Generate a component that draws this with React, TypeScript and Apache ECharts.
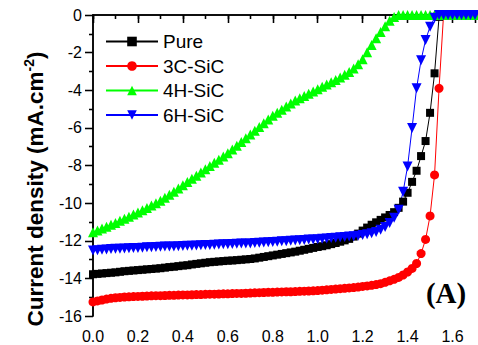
import React, { useEffect, useRef } from "react";
import * as echarts from "echarts";

const voltage = [
  0.0, 0.02, 0.04, 0.06, 0.08, 0.1, 0.12, 0.14, 0.16, 0.18,
  0.2, 0.22, 0.24, 0.26, 0.28, 0.3, 0.32, 0.34, 0.36, 0.38,
  0.4, 0.42, 0.44, 0.46, 0.48, 0.5, 0.52, 0.54, 0.56, 0.58,
  0.6, 0.62, 0.64, 0.66, 0.68, 0.7, 0.72, 0.74, 0.76, 0.78,
  0.8, 0.82, 0.84, 0.86, 0.88, 0.9, 0.92, 0.94, 0.96, 0.98,
  1.0, 1.02, 1.04, 1.06, 1.08, 1.1, 1.12, 1.14, 1.16, 1.18,
  1.2, 1.22, 1.24, 1.26, 1.28, 1.3, 1.32, 1.34, 1.36, 1.38,
  1.4, 1.42, 1.44, 1.46, 1.48, 1.5, 1.52, 1.54, 1.56, 1.58,
  1.6, 1.62, 1.64, 1.66, 1.68, 1.7,
];

const pure = [
  -13.78, -13.76, -13.74, -13.72, -13.7, -13.68, -13.65, -13.62, -13.6, -13.58,
  -13.56, -13.54, -13.52, -13.5, -13.48, -13.46, -13.43, -13.4, -13.38, -13.35,
  -13.32, -13.3, -13.26, -13.23, -13.2, -13.17, -13.14, -13.12, -13.1, -13.08,
  -13.06, -13.05, -13.03, -13.01, -12.99, -12.97, -12.94, -12.9, -12.86, -12.82,
  -12.78, -12.74, -12.7, -12.66, -12.62, -12.58, -12.53, -12.48, -12.43, -12.38,
  -12.33, -12.29, -12.24, -12.18, -12.12, -12.05, -11.98, -11.9, -11.78, -11.62,
  -11.46, -11.3, -11.15, -11.02, -10.89, -10.76, -10.63, -10.48, -10.25, -9.92,
  -9.45, -8.87, -8.28, -7.5, -6.7, -5.2, -3.1, -0.1, 0, 0,
  0, 0, 0, 0, 0, 0,
];

const sic3C = [
  -15.25, -15.2, -15.15, -15.1, -15.06, -15.03, -15.01, -14.99, -14.98, -14.97,
  -14.96, -14.95, -14.94, -14.93, -14.92, -14.92, -14.91, -14.9, -14.9, -14.89,
  -14.88, -14.88, -14.87, -14.86, -14.86, -14.85, -14.84, -14.84, -14.83, -14.82,
  -14.82, -14.81, -14.8, -14.8, -14.79, -14.78, -14.77, -14.76, -14.75, -14.74,
  -14.74, -14.73, -14.72, -14.71, -14.71, -14.7, -14.69, -14.68, -14.67, -14.66,
  -14.65, -14.63, -14.61, -14.59, -14.57, -14.55, -14.53, -14.51, -14.49, -14.46,
  -14.43, -14.4, -14.37, -14.33, -14.28, -14.21, -14.13, -14.05, -13.95, -13.82,
  -13.66, -13.47, -13.21, -12.68, -11.93, -10.68, -8.5, -3.9, 0, 0,
  0, 0, 0, 0, 0, 0,
];

const sic4H = [
  -11.55, -11.45, -11.35, -11.25, -11.15, -11.05, -10.94, -10.83, -10.72, -10.61,
  -10.5, -10.38, -10.26, -10.13, -10.01, -9.88, -9.72, -9.55, -9.39, -9.22,
  -9.05, -8.88, -8.71, -8.54, -8.37, -8.2, -8.03, -7.86, -7.69, -7.52,
  -7.35, -7.15, -6.95, -6.75, -6.55, -6.35, -6.15, -5.95, -5.75, -5.55,
  -5.35, -5.19, -5.03, -4.87, -4.71, -4.55, -4.43, -4.31, -4.19, -4.07,
  -3.95, -3.82, -3.7, -3.57, -3.45, -3.32, -3.18, -3.03, -2.85, -2.62,
  -2.35, -1.98, -1.6, -1.23, -0.9, -0.6, -0.3, -0.1, 0, 0,
  0, 0, 0, 0, 0, 0, 0, 0, 0, 0,
  0, 0, 0, 0, 0, 0,
];

const sic6H = [
  -12.52, -12.5, -12.48, -12.46, -12.44, -12.43, -12.42, -12.41, -12.4, -12.39,
  -12.38, -12.37, -12.35, -12.34, -12.33, -12.32, -12.31, -12.3, -12.3, -12.29,
  -12.28, -12.27, -12.26, -12.25, -12.24, -12.23, -12.22, -12.21, -12.2, -12.19,
  -12.18, -12.17, -12.16, -12.15, -12.15, -12.14, -12.12, -12.11, -12.09, -12.08,
  -12.06, -12.05, -12.03, -12.02, -12.0, -11.99, -11.97, -11.96, -11.94, -11.93,
  -11.92, -11.9, -11.88, -11.86, -11.84, -11.82, -11.8, -11.78, -11.76, -11.73,
  -11.7, -11.66, -11.6, -11.53, -11.42, -11.27, -11.05, -10.78, -10.35, -9.4,
  -8.05, -6.0, -3.9, -2.4, -1.33, -0.62, -0.15, 0, 0, 0,
  0, 0, 0, 0, 0, 0,
];

const seriesNames = ["Pure", "3C-SiC", "4H-SiC", "6H-SiC"];
const seriesValues = [pure, sic3C, sic4H, sic6H];
const seriesColors = ["#000000", "#ff0000", "#00ff00", "#0000ff"];
const seriesSymbols = ["rect", "circle", "triangle", "path://M0,0 L10,0 L5,9 Z"];
const seriesSymbolSizes = [8, 9, 10, 10];

const yAxisTitle = "Current density (mA.cm";
const yAxisSup = "-2";
const panelLabel = "(A)";

const FONT = "Liberation Sans";

export default function App() {
  const ref = useRef<HTMLDivElement>(null);

  useEffect(() => {
    const chart = echarts.init(ref.current!, null, { renderer: "svg" });
    const axisLineStyle = { color: "#000", width: 1.5 };
    const tickStyle = { color: "#000", width: 1.3 };
    const grid = { left: 93, top: 15, right: 3, bottom: 29 };

    const option: any = {
      animation: false,
      backgroundColor: "#fff",
      grid: [grid, { ...grid }],
      legend: {
        orient: "vertical",
        left: 100,
        top: 27,
        itemWidth: 52,
        itemHeight: 12,
        itemGap: 5.5,
        textStyle: { fontSize: 19, fontFamily: FONT, color: "#000" },
        data: seriesNames,
      },
      xAxis: [
        {
          gridIndex: 0,
          type: "value",
          position: "bottom",
          min: 0,
          max: 1.7,
          interval: 0.2,
          axisLine: { lineStyle: axisLineStyle },
          axisTick: { length: 8, lineStyle: tickStyle },
          axisLabel: {
            fontSize: 16,
            fontFamily: FONT,
            color: "#000",
            margin: 12,
            formatter: (v: number) => (v > 1.65 ? "" : v.toFixed(1)),
          },
          splitLine: { show: false },
        },
        {
          gridIndex: 0,
          type: "value",
          position: "top",
          min: 0,
          max: 1.7,
          interval: 0.2,
          axisLine: { lineStyle: axisLineStyle },
          axisTick: { inside: true, length: 8, lineStyle: tickStyle },
          axisLabel: { show: false },
          splitLine: { show: false },
        },
        {
          gridIndex: 1,
          type: "value",
          position: "bottom",
          min: 0,
          max: 1.7,
          interval: 0.1,
          axisLine: { show: false },
          axisTick: { show: true, length: 4, lineStyle: tickStyle },
          axisLabel: { show: false },
          splitLine: { show: false },
        },
        {
          gridIndex: 1,
          type: "value",
          position: "top",
          min: 0,
          max: 1.7,
          interval: 0.1,
          axisLine: { show: false },
          axisTick: { show: true, inside: true, length: 4, lineStyle: tickStyle },
          axisLabel: { show: false },
          splitLine: { show: false },
        },
      ],
      yAxis: [
        {
          gridIndex: 0,
          type: "value",
          position: "left",
          min: -16,
          max: 0,
          interval: 2,
          axisLine: { lineStyle: axisLineStyle },
          axisTick: { length: 8, lineStyle: tickStyle },
          minorTick: { show: true, splitNumber: 2, length: 4, lineStyle: tickStyle },
          axisLabel: { fontSize: 16, fontFamily: FONT, color: "#000", margin: 11 },
          splitLine: { show: false },
        },
        {
          gridIndex: 0,
          type: "value",
          position: "right",
          min: -16,
          max: 0,
          interval: 2,
          axisLine: { lineStyle: axisLineStyle },
          axisTick: { inside: true, length: 8, lineStyle: tickStyle },
          minorTick: { show: true, splitNumber: 2, length: 4, lineStyle: tickStyle },
          axisLabel: { show: false },
          splitLine: { show: false },
        },
        {
          gridIndex: 1,
          type: "value",
          min: -16,
          max: 0,
          show: false,
        },
      ],
      series: seriesNames.map((name, k) => ({
        name,
        type: "line",
        xAxisIndex: 0,
        yAxisIndex: 0,
        data: voltage.map((v, i) => [v, seriesValues[k][i]]),
        symbol: seriesSymbols[k],
        symbolSize: seriesSymbolSizes[k],
        showSymbol: true,
        lineStyle: { color: seriesColors[k], width: 1 },
        itemStyle: { color: seriesColors[k], borderWidth: 0 },
        emphasis: { disabled: true },
      })),
      graphic: [
        {
          type: "text",
          x: 35,
          y: 189,
          rotation: Math.PI / 2,
          style: {
            text: `{a|${yAxisTitle}}{s|${yAxisSup}}{a|)}`,
            align: "center",
            verticalAlign: "middle",
            rich: {
              a: { fontSize: 22.5, fontWeight: "bold", fontFamily: FONT, fill: "#000", lineHeight: 26 },
              s: { fontSize: 14, fontWeight: "bold", fontFamily: FONT, fill: "#000", verticalAlign: "top", lineHeight: 14 },
            },
          },
        },
        {
          type: "text",
          x: 446,
          y: 293,
          style: {
            text: panelLabel,
            fontSize: 29,
            fontWeight: "bold",
            fontFamily: "Liberation Serif",
            fill: "#000",
            align: "center",
            verticalAlign: "middle",
          },
        },
      ],
    };

    chart.setOption(option);
    return () => chart.dispose();
  }, []);

  return (
    <div
      ref={ref}
      style={{ position: "absolute", left: 0, top: 0, width: 478, height: 345 }}
    />
  );
}
